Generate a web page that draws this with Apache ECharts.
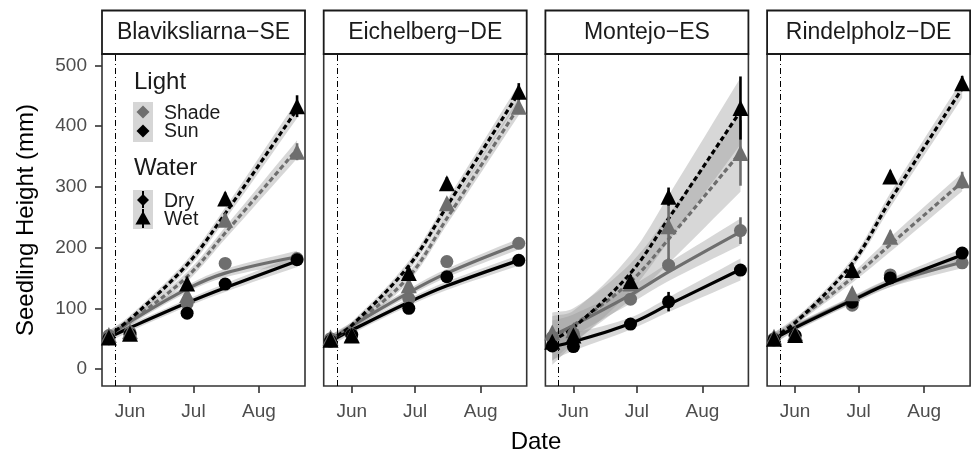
<!DOCTYPE html>
<html>
<head>
<meta charset="utf-8">
<script src="https://cdn.jsdelivr.net/npm/echarts@6/dist/echarts.min.js"></script>
<style>
  html, body { margin: 0; padding: 0; background: #fff; }
  #chart { width: 973px; height: 453px; }
</style>
</head>
<body>
<div id="chart"></div>
<script>
// Sampling dates and site panels
const dates = ['2021-05-22', '2021-06-01', '2021-06-28', '2021-07-16', '2021-08-19'];
const sites = ['Blaviksliarna−SE', 'Eichelberg−DE', 'Montejo−ES', 'Rindelpholz−DE'];
const plantingDate = '2021-05-25';
const tickDates = ['2021-06-01', '2021-07-01', '2021-08-01'];
const tickLabels = ['Jun', 'Jul', 'Aug'];
const yTicks = [0, 100, 200, 300, 400, 500];

// Mean seedling height (mm), one row per site
const shadeDry = [
  [55, 60, 108, 174, 182],
  [50, 57, 116, 177, 207],
  [52, 58, 115, 171, 228],
  [50, 55, 105, 155, 175]
];
const sunDry = [
  [50, 57, 92, 140, 180],
  [46, 56, 100, 152, 179],
  [38, 37, 74, 111, 163],
  [48, 55, 110, 150, 191]
];
const shadeWet = [
  [56, 62, 122, 246, 358],
  [52, 56, 138, 273, 432],
  [60, 64, 141, 235, 356],
  [53, 59, 125, 218, 311]
];
const sunWet = [
  [52, 58, 141, 281, 433],
  [48, 55, 158, 306, 457],
  [45, 55, 145, 284, 430],
  [50, 56, 163, 317, 471]
];

// Standard error of the means
const shadeDryErr = [[4, 4, 6, 6, 6], [4, 4, 5, 6, 6], [8, 6, 8, 12, 22], [4, 4, 6, 6, 8]];
const sunDryErr = [[4, 4, 6, 6, 6], [4, 4, 5, 6, 6], [5, 5, 6, 16, 9], [4, 4, 6, 6, 6]];
const shadeWetErr = [[5, 4, 8, 10, 14], [4, 4, 6, 8, 12], [8, 8, 10, 58, 54], [4, 4, 8, 10, 14]];
const sunWetErr = [[6, 5, 8, 10, 18], [4, 4, 8, 10, 14], [6, 6, 10, 15, 52], [4, 4, 8, 10, 12]];

// Fitted growth curves
const shadeDryFit = [
  [54, 78, 132, 158, 185],
  [48, 71, 126, 158, 206],
  [55, 72, 122, 160, 226],
  [50, 69, 114, 142, 176]
];
const sunDryFit = [
  [52, 68, 109, 134, 178],
  [46, 64, 110, 137, 179],
  [37, 45, 75, 106, 164],
  [50, 68, 113, 142, 188]
];
const shadeWetFit = [
  [55, 78, 152, 224, 362],
  [48, 70, 152, 248, 432],
  [53, 72, 144, 214, 357],
  [52, 78, 150, 205, 308]
];
const sunWetFit = [
  [55, 82, 172, 256, 428],
  [48, 72, 170, 268, 455],
  [47, 68, 158, 248, 425],
  [52, 76, 174, 278, 462]
];

// Confidence band half-widths of the fits
const shadeDryBand = [[8, 6, 6, 7, 10], [8, 6, 6, 7, 9], [25, 18, 14, 15, 22], [8, 6, 6, 7, 10]];
const sunDryBand = [[8, 6, 6, 7, 10], [8, 6, 6, 7, 9], [22, 15, 10, 12, 18], [8, 6, 6, 7, 10]];
const shadeWetBand = [[8, 6, 8, 10, 15], [8, 6, 8, 10, 14], [40, 28, 30, 40, 65], [8, 6, 8, 12, 15]];
const sunWetBand = [[8, 6, 8, 10, 15], [8, 6, 8, 10, 14], [40, 28, 30, 38, 55], [8, 6, 8, 12, 15]];

const FONT = '"Liberation Sans", Arial, Helvetica, sans-serif';
const GRAY = '#6e6e6e';
const BLACK = '#000000';
const BAND_FILL = 'rgba(150,150,150,0.38)';

const groups = [
  { key: 'shadeDry', mean: shadeDry, err: shadeDryErr, fit: shadeDryFit, band: shadeDryBand, color: GRAY, wet: false },
  { key: 'sunDry', mean: sunDry, err: sunDryErr, fit: sunDryFit, band: sunDryBand, color: BLACK, wet: false },
  { key: 'shadeWet', mean: shadeWet, err: shadeWetErr, fit: shadeWetFit, band: shadeWetBand, color: GRAY, wet: true },
  { key: 'sunWet', mean: sunWet, err: sunWetErr, fit: sunWetFit, band: sunWetBand, color: BLACK, wet: true }
];

// dates are placed on a numeric (millisecond) axis
const ts = s => new Date(s.replace(/-/g, '/')).getTime();
const tickValues = tickDates.map(ts);

const panelLeft = i => 102 + i * 221.7;
const PANEL_W = 203;
const PANEL_TOP = 54;
const PANEL_H = 332;

// ribbon drawn once per series as a smoothed polygon: upper edge out, lower edge back
function renderRibbon(params, api) {
  if (params.dataIndexInside !== 0) return null;
  const n = params.dataInsideLength;
  const upper = [], lower = [];
  for (let k = 0; k < n; k++) {
    const x = api.value(0, k);
    upper.push(api.coord([x, api.value(2, k)]));
    lower.push(api.coord([x, api.value(1, k)]));
  }
  lower.reverse();
  // repeat the corner points so the ends stay square
  const pts = [upper[0]].concat(upper, [upper[n - 1]], [lower[0]], lower, [lower[n - 1]]);
  return {
    type: 'polygon',
    shape: { points: pts, smooth: 0.35 },
    style: { fill: BAND_FILL, stroke: null }
  };
}

const grids = [], xAxes = [], yAxes = [], series = [], graphics = [];

sites.forEach((site, i) => {
  grids.push({
    left: panelLeft(i), top: PANEL_TOP, width: PANEL_W, height: PANEL_H,
    show: true, borderColor: '#333', borderWidth: 1.6, backgroundColor: 'transparent'
  });
  xAxes.push({
    type: 'value', gridIndex: i,
    min: ts('2021-05-18') + 18 * 3600e3,
    max: ts('2021-08-22') + 18 * 3600e3,
    axisLine: { show: false, onZero: false },
    splitLine: { show: false },
    axisTick: { show: true, length: 7, lineStyle: { color: '#333', width: 1.6 }, customValues: tickValues },
    axisLabel: {
      show: true, margin: 16, fontSize: 19, color: '#4d4d4d', fontFamily: FONT,
      customValues: tickValues,
      formatter: v => {
        const k = tickValues.indexOf(v);
        return k >= 0 ? tickLabels[k] : '';
      }
    }
  });
  yAxes.push({
    type: 'value', gridIndex: i, min: -28, max: 519,
    axisLine: { show: false, onZero: false },
    splitLine: { show: false },
    axisTick: { show: i === 0, length: 7, lineStyle: { color: '#333', width: 1.6 }, customValues: yTicks },
    axisLabel: { show: i === 0, margin: 15, fontSize: 19, color: '#4d4d4d', fontFamily: FONT, customValues: yTicks },
    name: i === 0 ? 'Seedling Height (mm)' : '',
    nameLocation: 'middle', nameGap: 64,
    nameTextStyle: { fontSize: 24, color: '#000', fontFamily: FONT }
  });

  // facet strip
  graphics.push({
    type: 'rect', z: 10,
    shape: { x: panelLeft(i), y: 10.5, width: PANEL_W, height: 43.5 },
    style: { fill: '#fff', stroke: '#1a1a1a', lineWidth: 1.8 }
  });
  graphics.push({
    type: 'text', z: 11, x: panelLeft(i) + PANEL_W / 2, y: 33,
    style: { text: site, fontSize: 23, fontFamily: FONT, fill: '#1a1a1a', align: 'center', verticalAlign: 'middle' }
  });

  groups.forEach((g, gi) => {
    // confidence ribbon
    series.push({
      type: 'custom', xAxisIndex: i, yAxisIndex: i, silent: true, z: 2,
      renderItem: renderRibbon,
      encode: { x: 0, y: [1, 2] },
      data: dates.map((d, k) => [ts(d), g.fit[i][k] - g.band[i][k], g.fit[i][k] + g.band[i][k]])
    });
    // fitted curve
    series.push({
      type: 'line', xAxisIndex: i, yAxisIndex: i, silent: true,
      smooth: 0.35, symbol: 'none', z: 3,
      lineStyle: { color: g.color, width: 3.2, type: g.wet ? [5, 3] : 'solid', cap: 'butt' },
      data: dates.map((d, k) => [ts(d), g.fit[i][k]])
    });
    // error bars
    series.push({
      type: 'custom', xAxisIndex: i, yAxisIndex: i, silent: true, z: 4,
      renderItem: (params, api) => {
        const x = api.value(0), m = api.value(1), e = api.value(2);
        const p1 = api.coord([x, m - e]);
        const p2 = api.coord([x, m + e]);
        return {
          type: 'line',
          shape: { x1: p1[0], y1: p1[1], x2: p2[0], y2: p2[1] },
          style: { stroke: g.color, lineWidth: 2.6 }
        };
      },
      encode: { x: 0, y: 1 },
      data: dates.map((d, k) => [ts(d), g.mean[i][k], g.err[i][k]])
    });
    // means
    const pts = {
      type: 'scatter', xAxisIndex: i, yAxisIndex: i, silent: true, z: 5,
      symbol: g.wet ? 'triangle' : 'circle',
      symbolSize: g.wet ? 16 : 13,
      itemStyle: { color: g.color, opacity: 1 },
      data: dates.map((d, k) => [ts(d), g.mean[i][k]])
    };
    if (gi === 0) {
      pts.markLine = {
        silent: true, symbol: ['none', 'none'], animation: false,
        label: { show: false },
        lineStyle: { color: '#000', width: 1, type: [6, 3, 1, 3] },
        data: [{ xAxis: ts(plantingDate) }]
      };
    }
    series.push(pts);
  });
});

// x axis title
graphics.push({
  type: 'text', x: 536, y: 442,
  style: { text: 'Date', fontSize: 24, fontFamily: FONT, fill: '#000', align: 'center', verticalAlign: 'middle' }
});

// legend inside the first panel
const diamond = (cx, cy, r) => [[cx, cy - r], [cx + r, cy], [cx, cy + r], [cx - r, cy]];
const triangle = (cx, cy, r) => [[cx, cy - r], [cx + r * 0.95, cy + r * 0.7], [cx - r * 0.95, cy + r * 0.7]];
const legendText = (text, x, y, size) => ({
  type: 'text', x, y, z: 20,
  style: { text, fontSize: size, fontFamily: FONT, fill: '#1a1a1a', verticalAlign: 'middle' }
});
graphics.push(
  legendText('Light', 134, 82, 24),
  { type: 'rect', z: 20, shape: { x: 133, y: 102, width: 20, height: 40 }, style: { fill: '#d6d6d6' } },
  { type: 'polygon', z: 21, shape: { points: diamond(143, 112, 6.5) }, style: { fill: GRAY } },
  { type: 'polygon', z: 21, shape: { points: diamond(143, 131, 6.5) }, style: { fill: BLACK } },
  legendText('Shade', 164, 114, 19.5),
  legendText('Sun', 164, 132, 19.5),
  legendText('Water', 134, 168, 24),
  { type: 'rect', z: 20, shape: { x: 133, y: 190, width: 20, height: 39 }, style: { fill: '#d6d6d6' } },
  { type: 'line', z: 21, shape: { x1: 143, y1: 191, x2: 143, y2: 208 }, style: { stroke: BLACK, lineWidth: 2 } },
  { type: 'polygon', z: 21, shape: { points: diamond(143, 200, 6) }, style: { fill: BLACK } },
  { type: 'line', z: 21, shape: { x1: 143, y1: 209, x2: 143, y2: 228 }, style: { stroke: BLACK, lineWidth: 2 } },
  { type: 'polygon', z: 21, shape: { points: triangle(143, 219, 8) }, style: { fill: BLACK } },
  legendText('Dry', 164, 202, 19.5),
  legendText('Wet', 164, 220, 19.5)
);

const chart = echarts.init(document.getElementById('chart'), null, { renderer: 'canvas' });
chart.setOption({
  animation: false,
  backgroundColor: '#fff',
  textStyle: { fontFamily: FONT },
  grid: grids,
  xAxis: xAxes,
  yAxis: yAxes,
  series: series,
  graphic: graphics
});
</script>
</body>
</html>
